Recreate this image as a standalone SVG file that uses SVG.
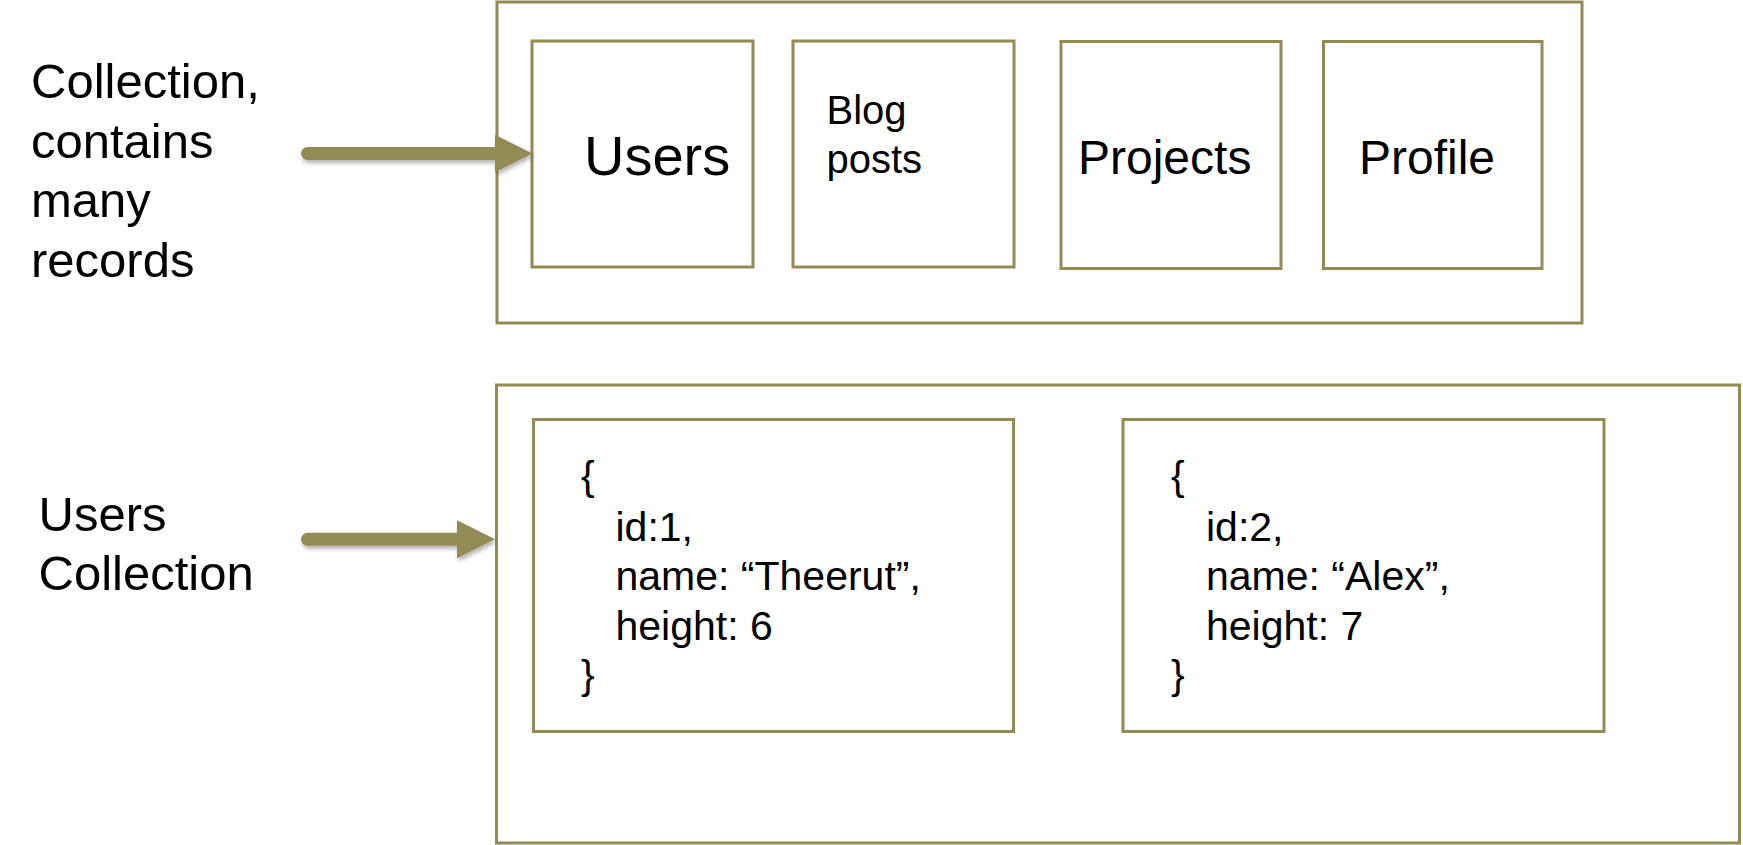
<svg xmlns="http://www.w3.org/2000/svg" width="1743" height="845" viewBox="0 0 1743 845">
<style>
.box{fill:#ffffff;stroke:#948A54;stroke-width:3}
.frame{fill:none;stroke:#948A54;stroke-width:3}
text{font-family:"Liberation Sans",Arial,sans-serif;fill:#000000}
.lbl{font-size:49px}
.json{font-size:41px}
.conn{stroke:#948A54;stroke-width:13;stroke-linecap:round;fill:none}
</style>
<defs>
<marker id="head" markerUnits="userSpaceOnUse" viewBox="0 0 38 38" refX="0" refY="19" markerWidth="38" markerHeight="38" orient="auto">
<path d="M0,0 L38,19 L0,38 Z" fill="#948A54"/>
</marker>
<filter id="shadow" filterUnits="userSpaceOnUse" x="0" y="0" width="1743" height="845">
<feDropShadow dx="1.5" dy="3" stdDeviation="2" flood-color="#000000" flood-opacity="0.3"/>
</filter>
</defs>
<rect width="1743" height="845" fill="#ffffff"/>

<g id="label-collection">
<text class="lbl" x="31" y="98">Collection,</text>
<text class="lbl" x="31" y="158">contains</text>
<text class="lbl" x="31" y="217">many</text>
<text class="lbl" x="31" y="277">records</text>
</g>

<g id="label-users-collection">
<text class="lbl" x="38.5" y="531">Users</text>
<text class="lbl" x="38.5" y="590">Collection</text>
</g>

<g id="database">
<rect class="frame" x="497" y="2" width="1085" height="321"/>
</g>

<g id="users">
<rect class="box" x="532" y="41" width="221" height="226"/>
<text x="584" y="175" font-size="56">Users</text>
</g>

<g id="blog-posts">
<rect class="box" x="793" y="41" width="221" height="226"/>
<text x="826.5" y="124" font-size="40">Blog</text>
<text x="826.5" y="172.5" font-size="40">posts</text>
</g>

<g id="projects">
<rect class="box" x="1061" y="41.5" width="220" height="227"/>
<text x="1078" y="174" font-size="48">Projects</text>
</g>

<g id="profile">
<rect class="box" x="1323.5" y="41.5" width="218.5" height="227"/>
<text x="1359" y="174" font-size="48">Profile</text>
</g>

<g id="users-collection">
<rect class="frame" x="496.5" y="385" width="1243" height="458"/>
</g>

<g id="record-1">
<rect class="box" x="533.5" y="419.5" width="480" height="312"/>
<text class="json" x="581" y="490">{</text>
<text class="json" x="615.5" y="540.5">id:1,</text>
<text class="json" x="615.5" y="590">name: “Theerut”,</text>
<text class="json" x="615.5" y="639.5">height: 6</text>
<text class="json" x="581" y="689">}</text>
</g>

<g id="record-2">
<rect class="box" x="1123" y="419.5" width="481" height="312"/>
<text class="json" x="1171" y="490">{</text>
<text class="json" x="1206" y="540.5">id:2,</text>
<text class="json" x="1206" y="590">name: “Alex”,</text>
<text class="json" x="1206" y="639.5">height: 7</text>
<text class="json" x="1171" y="689">}</text>
</g>

<g id="connectors" filter="url(#shadow)">
<line class="conn" x1="307.5" y1="153.5" x2="494.5" y2="153.5" marker-end="url(#head)"/>
<line class="conn" x1="307.5" y1="539.3" x2="457" y2="539.3" marker-end="url(#head)"/>
</g>
</svg>
